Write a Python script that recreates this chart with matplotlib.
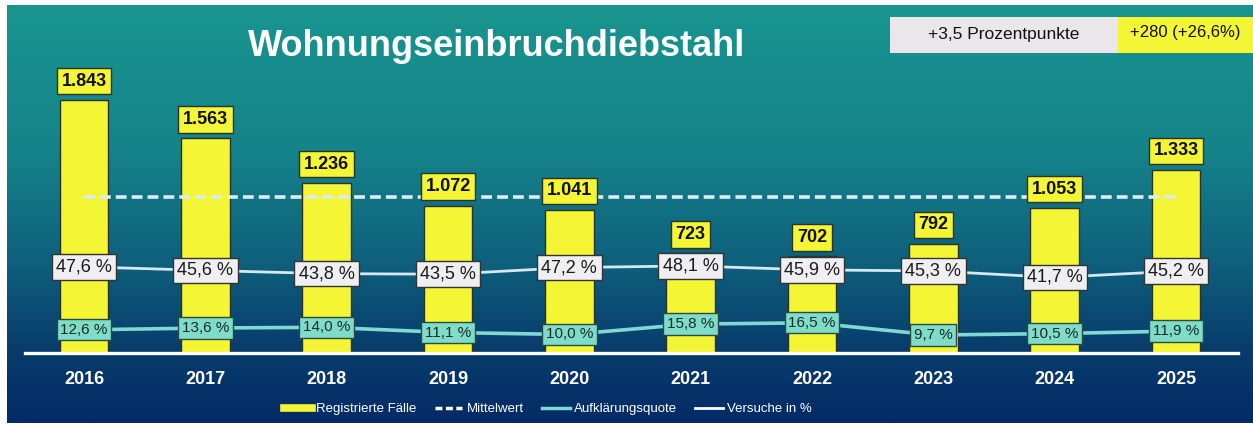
import numpy as np
import matplotlib
matplotlib.use("Agg")
import matplotlib.pyplot as plt
from matplotlib.colors import LinearSegmentedColormap
from matplotlib.lines import Line2D

plt.rcParams['font.family'] = ['Liberation Sans', 'DejaVu Sans']

# data
jahre = ['2016', '2017', '2018', '2019', '2020', '2021', '2022', '2023', '2024', '2025']
faelle = [1843, 1563, 1236, 1072, 1041, 723, 702, 792, 1053, 1333]
versuche = [47.6, 45.6, 43.8, 43.5, 47.2, 48.1, 45.9, 45.3, 41.7, 45.2]
aufklaerung = [12.6, 13.6, 14.0, 11.1, 10.0, 15.8, 16.5, 9.7, 10.5, 11.9]
info_pp = '+3,5 Prozentpunkte'
info_abs = '+280 (+26,6%)'

gelb = '#f4f534'
tuerkis = '#7fdcc9'
W, H = 1253, 425

fig = plt.figure(figsize=(W / 100, H / 100), dpi=100)
fig.patch.set_facecolor('white')

# background gradient
bg = fig.add_axes([7 / W, 2 / H, 1 - 7 / W, 418 / H])
cmap = LinearSegmentedColormap.from_list('bg', [
    (0.0, '#19958f'), (0.35, '#15838a'), (0.62, '#0e5f7c'),
    (0.82, '#083d6c'), (1.0, '#042b66')])
bg.imshow(np.linspace(0, 1, 256).reshape(-1, 1), aspect='auto', cmap=cmap,
          extent=[0, 1, 1, 0])
bg.set_axis_off()

# main axes
ax = fig.add_axes([25 / W, 72.5 / H, 1213 / W, 312.5 / H])
ax.patch.set_alpha(0)
x = np.arange(len(jahre))
ax.bar(x, faelle, width=0.4, color=gelb, edgecolor='#2b3326', linewidth=1, zorder=2)
ax.set_xlim(-0.486, 9.51)
ax.set_ylim(0, 2281)

mittel = np.mean(faelle)
ax.plot([x[0], x[-1]], [mittel, mittel], color='#dcecf0', lw=2.6,
        linestyle=(0, (3, 1.4)), zorder=3)

for xi, v in zip(x, faelle):
    ax.annotate(f"{v:,}".replace(",", "."), (xi, v), xytext=(0, 19),
                textcoords='offset pixels', ha='center', va='center',
                fontsize=13, fontweight='bold', color='#111111', zorder=5,
                bbox=dict(boxstyle='square,pad=0.26', fc=gelb, ec='#2b3326', lw=1))

for s in ['top', 'left', 'right']:
    ax.spines[s].set_visible(False)
ax.spines['bottom'].set_color('white')
ax.spines['bottom'].set_linewidth(2.4)
ax.spines['bottom'].set_zorder(6)
ax.set_yticks([])
ax.set_xticks(x)
ax.set_xticklabels(jahre, color='white', fontsize=13, fontweight='bold')
ax.tick_params(axis='x', length=0, pad=13)

# percent axis
ax2 = ax.twinx()
ax2.set_ylim(0, 173.6)
ax2.set_axis_off()
ax2.plot(x, versuche, color='#d2e9f0', lw=2, zorder=2)
ax2.plot(x, aufklaerung, color='#7fd8d2', lw=2.6, zorder=2)
for xi, v in zip(x, versuche):
    ax2.text(xi, v, f"{v:.1f} %".replace(".", ","), ha='center', va='center',
             fontsize=13, color='#1a1a1a', zorder=5,
             bbox=dict(boxstyle='square,pad=0.24', fc='#efeef0', ec='#333333', lw=1))
for xi, v in zip(x, aufklaerung):
    ax2.text(xi, v, f"{v:.1f} %".replace(".", ","), ha='center', va='center',
             fontsize=11, color='#1a2a2a', zorder=5,
             bbox=dict(boxstyle='square,pad=0.24', fc=tuerkis, ec='#2c4a44', lw=1))

# title and info boxes
fig.text(497 / W, 1 - 47 / H, 'Wohnungseinbruchdiebstahl', ha='center', va='center',
         fontsize=26, fontweight='bold', color='white')
fig.patches.append(plt.Rectangle((890 / W, 1 - 53 / H), 228 / W, 36 / H,
                                 transform=fig.transFigure, fc='#e9e7ea', ec='none'))
fig.patches.append(plt.Rectangle((1118 / W, 1 - 53 / H), 135 / W, 36 / H,
                                 transform=fig.transFigure, fc=gelb, ec='none'))
fig.text(1004 / W, 1 - 35 / H, info_pp, ha='center', va='center', fontsize=12.5,
         color='#111111')
fig.text(1185 / W, 1 - 32 / H, info_abs, ha='center', va='center', fontsize=12,
         color='#111111')

# legend
handles = [Line2D([], [], color=gelb, lw=5.5),
           Line2D([], [], color='white', lw=2.5, linestyle=(0, (2, 1))),
           Line2D([], [], color='#7fd8d2', lw=2.5),
           Line2D([], [], color='white', lw=2)]
labels = ['Registrierte Fälle', 'Mittelwert', 'Aufklärungsquote', 'Versuche in %']
leg = fig.legend(handles, labels, loc='center', bbox_to_anchor=(548 / W, 1 - 409 / H),
                 ncol=4, frameon=False, fontsize=9.5, handlelength=2.1,
                 handletextpad=0.3, columnspacing=1.4)
for t in leg.get_texts():
    t.set_color('white')

fig.savefig('out.png', dpi=100)
